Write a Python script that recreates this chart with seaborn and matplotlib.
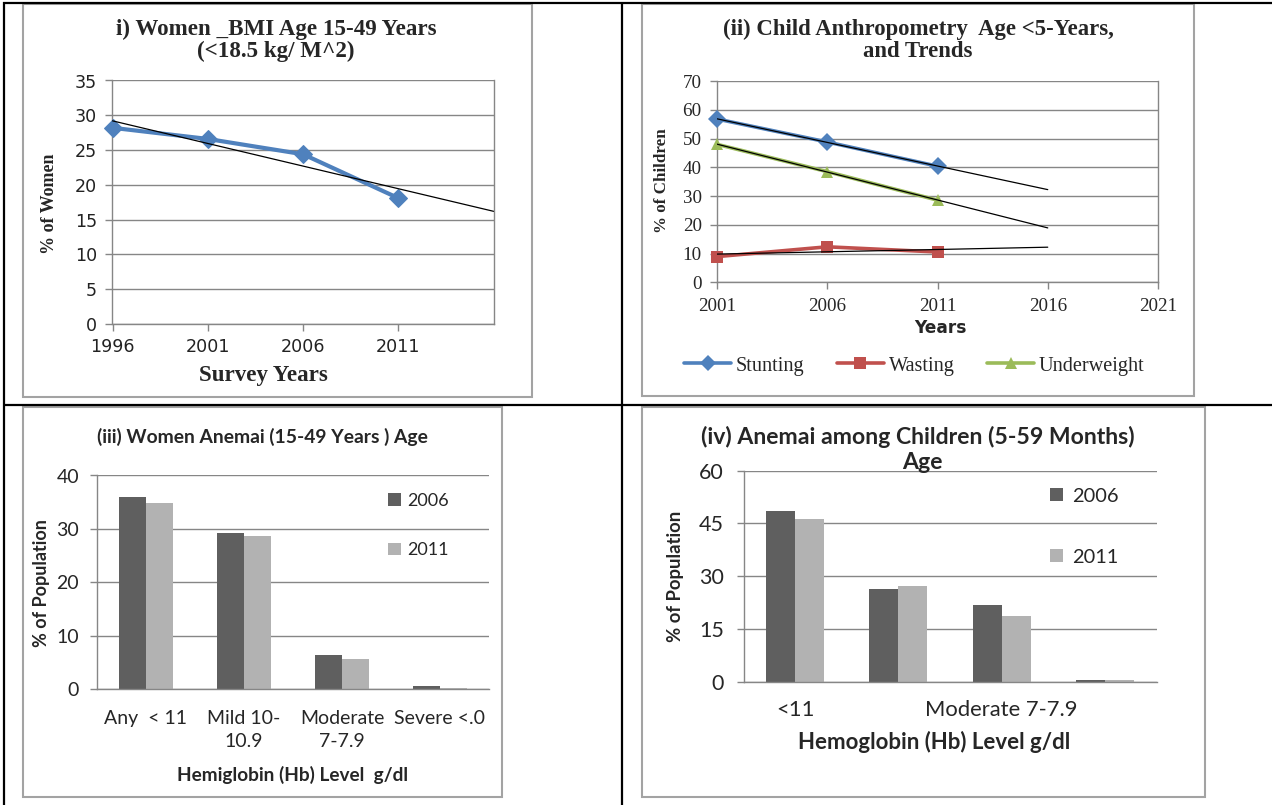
import numpy as np
import pandas as pd
import matplotlib
matplotlib.use("Agg")
import matplotlib.pyplot as plt
from matplotlib.lines import Line2D
from matplotlib.patches import Rectangle
import seaborn as sns

# ---------------- data ----------------
bmi_years = [1996, 2001, 2006, 2011]
bmi_women = [28.2, 26.6, 24.4, 18.1]
bmi_xticks = [1996, 2001, 2006, 2011]
bmi_yticks = [0, 5, 10, 15, 20, 25, 30, 35]

anthro_years = [2001, 2006, 2011]
stunting = [56.8, 48.8, 40.4]
wasting = [9.0, 12.4, 10.6]
underweight = [48.0, 38.5, 28.6]
anthro_names = ["Stunting", "Wasting", "Underweight"]
anthro_xticks = [2001, 2006, 2011, 2016, 2021]
anthro_yticks = [0, 10, 20, 30, 40, 50, 60, 70]

women_cats = ["Any <11", "Mild 10-10.9", "Moderate 7-7.9", "Severe <.0"]
women_ticklabels = ["Any  < 11", "Mild 10-\n10.9", "Moderate\n7-7.9", "Severe <.0"]
women_2006 = [36.0, 29.3, 6.3, 0.5]
women_2011 = [34.8, 28.7, 5.7, 0.1]
women_yticks = [0, 10, 20, 30, 40]

child_cats = ["<11", "Mild 10-10.9", "Moderate 7-7.9", "Severe <7"]
child_ticklabels = ["<11", "", "Moderate 7-7.9", ""]
child_2006 = [48.4, 26.3, 21.8, 0.5]
child_2011 = [46.2, 27.2, 18.7, 0.4]
child_yticks = [0, 15, 30, 45, 60]

rounds = ["2006", "2011"]

# ---------------- style ----------------
sns.set_style("white")
plt.rcParams["font.family"] = ["DejaVu Sans"]

W, H = 1272, 805
fig = plt.figure(figsize=(W / 100, H / 100), dpi=100)

SERIF = "Liberation Serif"
WIDE = "DejaVu Sans"
CAL = "Lato"
GRID = "#868686"
BLUE, RED, GREEN = "#4F81BD", "#C0504D", "#9BBB59"
DARK, LIGHT = "#5F5F5F", "#B2B2B2"


def pt(px):
    return px * 0.72


def fx(x):
    return x / W


def fy(y):
    return 1 - y / H


def px_axes(x0, y0, x1, y1):
    return fig.add_axes([x0 / W, 1 - y1 / H, (x1 - x0) / W, (y1 - y0) / H])


def to_axes(ax, cx, cy):
    x0, y0, w, h = ax.get_position().bounds
    return (fx(cx) - x0) / w, (fy(cy) - y0) / h


def title_at(ax, text, cx, cy, **kw):
    xa, ya = to_axes(ax, cx, cy)
    ax.set_title(text, x=xa, y=ya, pad=0, va="center", ha="center", **kw)


def label_at(ax, which, text, cx, cy, **kw):
    if which == "x":
        lab = ax.set_xlabel(text, va="center", ha="center", **kw)
        ax.xaxis.set_label_coords(fx(cx), fy(cy), transform=fig.transFigure)
    else:
        lab = ax.set_ylabel(text, va="center", ha="center", **kw)
        ax.yaxis.set_label_coords(fx(cx), fy(cy), transform=fig.transFigure)
    return lab


def style_axes(ax, right=True):
    for s in ["left", "bottom", "right", "top"]:
        ax.spines[s].set_color(GRID)
        ax.spines[s].set_linewidth(1.0)
    ax.spines["top"].set_visible(False)
    ax.spines["right"].set_visible(right)
    ax.yaxis.grid(True, color=GRID, linewidth=1.0)
    ax.xaxis.grid(False)
    ax.set_axisbelow(True)
    ax.tick_params(axis="both", direction="out", length=5, width=1.0, color=GRID, pad=3,
                   bottom=True, left=True)


# ---------------- table lines & chart frames ----------------
blk = dict(color="black", linewidth=1.6, transform=fig.transFigure, solid_capstyle="butt")
fig.add_artist(Line2D([fx(3), fx(1272)], [fy(3), fy(3)], **blk))
fig.add_artist(Line2D([fx(4), fx(1272)], [fy(404.5), fy(404.5)], **blk))
fig.add_artist(Line2D([fx(4), fx(4)], [fy(2), fy(805)], **blk))
fig.add_artist(Line2D([fx(621.5), fx(621.5)], [fy(2), fy(805)], **blk))

for (x0, y0, x1, y1) in [(22.5, 4.5, 532, 397), (642, 4.5, 1194, 396),
                         (22.5, 407.5, 502, 797), (642, 407.5, 1205, 797)]:
    fig.add_artist(Rectangle((fx(x0), fy(y1)), fx(x1) - fx(x0), fy(y0) - fy(y1),
                             transform=fig.transFigure, fill=False,
                             edgecolor="#A3A3A3", linewidth=1.5))

# ---------------- (i) women BMI ----------------
ax1 = px_axes(112.5, 80.5, 493.5, 324)
style_axes(ax1)
sns.lineplot(x=bmi_years, y=bmi_women, ax=ax1, color=BLUE, marker="D", markersize=9,
             linewidth=3.0, markeredgecolor=BLUE, clip_on=False, zorder=3)
c1 = np.polyfit(bmi_years, bmi_women, 1)
t1 = np.array([bmi_years[0], bmi_years[-1] + 5])
ax1.plot(t1, np.polyval(c1, t1), color="black", linewidth=0.9, zorder=4)
ax1.set_xlim(1996, 2016)
ax1.set_ylim(0, 35)
ax1.set_xticks(bmi_xticks)
ax1.set_yticks(bmi_yticks)
ax1.set_xticklabels([str(v) for v in bmi_xticks], fontsize=pt(17.5), family=WIDE, color="#222222")
ax1.set_yticklabels([str(v) for v in bmi_yticks], fontsize=pt(17.5), family=WIDE, color="#222222")
ax1.tick_params(axis="x", pad=5)
ax1.tick_params(axis="y", pad=6)
title_at(ax1, "i) Women _BMI Age 15-49 Years\n(<18.5 kg/ M^2)", 276, 40.5,
         fontsize=pt(23), fontweight="bold", family=SERIF, linespacing=1.05)
label_at(ax1, "y", "% of Women", 49, 204, fontsize=pt(18), fontweight="bold", family=SERIF)
label_at(ax1, "x", "Survey Years", 263, 375, fontsize=pt(23), fontweight="bold", family=SERIF)

# ---------------- (ii) child anthropometry ----------------
ax2 = px_axes(717, 81, 1158, 282.5)
style_axes(ax2)
df2 = pd.DataFrame({
    "year": anthro_years * 3,
    "value": stunting + wasting + underweight,
    "indicator": [anthro_names[0]] * 3 + [anthro_names[1]] * 3 + [anthro_names[2]] * 3,
})
sns.lineplot(data=df2, x="year", y="value", hue="indicator", style="indicator",
             hue_order=anthro_names, style_order=anthro_names,
             palette=[BLUE, RED, GREEN], markers=["D", "s", "^"], dashes=False,
             markersize=9, linewidth=2.6, markeredgecolor=None, mew=0,
             clip_on=False, zorder=3, ax=ax2)
for series in [stunting, wasting, underweight]:
    c = np.polyfit(anthro_years, series, 1)
    tt = np.array([anthro_years[0], anthro_years[-1] + 5])
    ax2.plot(tt, np.polyval(c, tt), color="black", linewidth=0.9, zorder=4)
ax2.set_xlim(2001, 2021)
ax2.set_ylim(0, 70)
ax2.set_xticks(anthro_xticks)
ax2.set_yticks(anthro_yticks)
ax2.set_xticklabels([str(v) for v in anthro_xticks], fontsize=pt(19), family=SERIF)
ax2.set_yticklabels([str(v) for v in anthro_yticks], fontsize=pt(19), family=SERIF)
ax2.tick_params(axis="x", pad=6)
ax2.tick_params(axis="y", pad=6)
title_at(ax2, "(ii) Child Anthropometry  Age <5-Years,\nand Trends", 918, 40.5,
         fontsize=pt(22.7), fontweight="bold", family=SERIF, linespacing=1.05)
label_at(ax2, "y", "% of Children", 662, 181, fontsize=pt(17), fontweight="bold", family=SERIF)
label_at(ax2, "x", "Years", 940, 328, fontsize=pt(17), fontweight="bold", family=WIDE)
sns.move_legend(ax2, loc="center", bbox_to_anchor=(fx(914.5), fy(366)),
                bbox_transform=fig.transFigure, ncol=3, title=None, frameon=False,
                handlelength=2.3, handletextpad=0.25, columnspacing=1.6, borderaxespad=0,
                borderpad=0, prop={"family": SERIF, "size": pt(20.3)})
for h in ax2.get_legend().legend_handles:
    h.set_linewidth(2.6)
    h.set_markersize(8)

# ---------------- (iii) women anemia ----------------
ax3 = px_axes(97, 475.5, 489, 689)
style_axes(ax3, right=False)
df3 = pd.DataFrame({
    "category": women_cats * 2,
    "value": women_2006 + women_2011,
    "round": [rounds[0]] * 4 + [rounds[1]] * 4,
})
sns.barplot(data=df3, x="category", y="value", hue="round", order=women_cats,
            hue_order=rounds, palette=[DARK, LIGHT], saturation=1, width=0.56,
            linewidth=0, ax=ax3)
ax3.set_ylim(0, 40)
ax3.set_xlim(-0.5, 3.5)
ax3.set_yticks(women_yticks)
ax3.set_yticklabels([str(v) for v in women_yticks], fontsize=pt(19.5), family=CAL)
ax3.set_xticks(range(len(women_cats)))
ax3.set_xticklabels(women_ticklabels, fontsize=pt(19.5), family=CAL, linespacing=1.42, va="top")
ax3.tick_params(axis="x", length=0, pad=15)
ax3.tick_params(axis="y", pad=8)
title_at(ax3, "(iii) Women Anemai (15-49 Years ) Age", 262, 437,
         fontsize=pt(19.3), fontweight="bold", family=CAL)
label_at(ax3, "y", "% of Population", 41, 583, fontsize=pt(18), fontweight="bold", family=CAL)
label_at(ax3, "x", "Hemiglobin (Hb) Level  g/dl", 293, 775, fontsize=pt(19), fontweight="bold", family=CAL)
sns.move_legend(ax3, loc="center left", bbox_to_anchor=(fx(388), fy(525.5)),
                bbox_transform=fig.transFigure, title=None, frameon=False,
                handlelength=0.7, handleheight=0.7, handletextpad=0.35,
                labelspacing=1.85, borderaxespad=0, borderpad=0,
                prop={"family": CAL, "size": pt(18)})

# ---------------- (iv) child anemia ----------------
ax4 = px_axes(743.5, 470.7, 1156.5, 681.7)
style_axes(ax4, right=False)
df4 = pd.DataFrame({
    "category": child_cats * 2,
    "value": child_2006 + child_2011,
    "round": [rounds[0]] * 4 + [rounds[1]] * 4,
})
sns.barplot(data=df4, x="category", y="value", hue="round", order=child_cats,
            hue_order=rounds, palette=[DARK, LIGHT], saturation=1, width=0.56,
            linewidth=0, ax=ax4)
ax4.set_ylim(0, 60)
ax4.set_xlim(-0.5, 3.5)
ax4.set_yticks(child_yticks)
ax4.set_yticklabels([str(v) for v in child_yticks], fontsize=pt(21.5), family=CAL)
ax4.set_xticks(range(len(child_cats)))
ax4.set_xticklabels(child_ticklabels, fontsize=pt(22), family=CAL)
ax4.tick_params(axis="x", length=0, pad=13)
ax4.tick_params(axis="y", pad=9)
title_at(ax4, "(iv) Anemai among Children (5-59 Months)", 918, 437,
         fontsize=pt(23), fontweight="bold", family=CAL)
xa, ya = to_axes(ax4, 922, 462)
ax4.text(xa, ya, "Age", transform=ax4.transAxes, ha="center", va="center",
         fontsize=pt(23), fontweight="bold", family=CAL)
label_at(ax4, "y", "% of Population", 676, 576, fontsize=pt(18.5), fontweight="bold", family=CAL)
label_at(ax4, "x", "Hemoglobin (Hb) Level g/dl", 934, 742, fontsize=pt(22.3), fontweight="bold", family=CAL)
sns.move_legend(ax4, loc="center left", bbox_to_anchor=(fx(1050), fy(526.5)),
                bbox_transform=fig.transFigure, title=None, frameon=False,
                handlelength=0.65, handleheight=0.65, handletextpad=0.45,
                labelspacing=2.2, borderaxespad=0, borderpad=0,
                prop={"family": CAL, "size": pt(20)})

fig.savefig("out.png", dpi=100)
